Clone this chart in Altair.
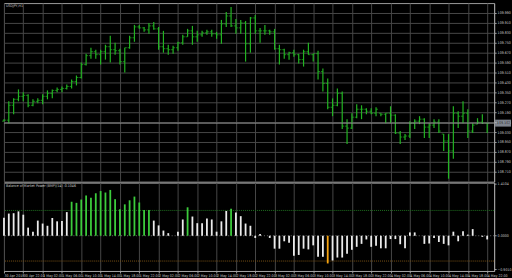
import altair as alt
import pandas as pd

# ---- data (USDJPY H1) ----
idx = list(range(101))
opens = [109.118,109.126,109.246,109.294,109.318,109.326,109.246,109.278,109.286,109.318,
         109.342,109.366,109.374,109.382,109.398,109.438,109.470,109.574,109.646,109.678,
         109.654,109.678,109.718,109.694,109.686,109.598,109.710,109.790,109.878,109.870,
         109.854,109.886,109.862,109.718,109.702,109.694,109.710,109.750,109.798,109.846,
         109.798,109.814,109.830,109.838,109.822,109.814,109.902,109.966,109.886,109.870,
         109.910,109.742,109.950,109.846,109.846,109.846,109.838,109.702,109.694,109.654,
         109.670,109.654,109.614,109.678,109.654,109.662,109.518,109.422,109.230,109.246,
         109.342,109.078,109.062,109.150,109.214,109.214,109.198,109.182,109.182,109.174,
         109.182,109.166,109.022,108.990,108.998,109.102,109.118,109.134,109.070,109.086,
         109.110,109.014,108.958,108.878,109.182,109.158,109.182,109.038,109.094,109.110,
         109.102]
highs = [109.134,109.278,109.302,109.374,109.350,109.334,109.294,109.302,109.334,109.366,
         109.374,109.390,109.398,109.414,109.454,109.486,109.590,109.662,109.710,109.694,
         109.694,109.734,109.806,109.750,109.702,109.710,109.806,109.894,109.894,109.878,
         109.910,109.918,109.878,109.846,109.734,109.726,109.758,109.814,109.862,109.886,
         109.846,109.846,109.854,109.854,109.838,109.934,109.998,110.038,109.942,109.934,
         109.926,109.958,109.974,109.870,109.894,109.854,109.862,109.734,109.702,109.678,
         109.694,109.662,109.694,109.750,109.662,109.686,109.542,109.462,109.302,109.382,
         109.358,109.134,109.182,109.254,109.246,109.222,109.222,109.230,109.182,109.182,
         109.238,109.174,109.038,109.014,109.118,109.134,109.158,109.142,109.102,109.134,
         109.134,109.014,109.014,109.238,109.198,109.278,109.214,109.102,109.142,109.174,
         109.102]
lows = [109.118,109.102,109.174,109.278,109.278,109.230,109.238,109.262,109.254,109.294,
        109.302,109.350,109.350,109.374,109.382,109.406,109.462,109.566,109.622,109.622,
        109.574,109.614,109.590,109.654,109.574,109.510,109.702,109.758,109.862,109.838,
        109.822,109.854,109.694,109.670,109.654,109.662,109.686,109.734,109.798,109.734,
        109.758,109.798,109.814,109.798,109.782,109.742,109.878,109.878,109.822,109.822,
        109.598,109.670,109.822,109.750,109.814,109.814,109.694,109.574,109.622,109.614,
        109.638,109.582,109.558,109.654,109.598,109.454,109.358,109.214,109.158,109.238,
        109.054,108.934,109.054,109.142,109.134,109.174,109.174,109.158,109.158,109.102,
        109.102,109.014,108.934,108.966,108.982,109.054,109.094,108.982,108.982,109.062,
        109.022,108.878,108.654,108.814,109.062,109.102,108.982,109.022,109.094,109.094,
        109.022]
closes = [109.126,109.246,109.294,109.318,109.326,109.246,109.278,109.286,109.318,109.342,
          109.366,109.374,109.382,109.398,109.438,109.470,109.574,109.646,109.678,109.654,
          109.678,109.718,109.694,109.686,109.598,109.710,109.790,109.878,109.870,109.854,
          109.886,109.862,109.718,109.702,109.694,109.710,109.750,109.798,109.846,109.798,
          109.814,109.830,109.838,109.822,109.814,109.902,109.966,109.886,109.870,109.910,
          109.742,109.950,109.846,109.846,109.846,109.838,109.702,109.694,109.654,109.670,
          109.654,109.614,109.678,109.654,109.662,109.518,109.422,109.230,109.246,109.342,
          109.078,109.062,109.150,109.214,109.214,109.198,109.182,109.214,109.174,109.182,
          109.166,109.022,108.990,108.998,109.102,109.118,109.134,109.070,109.086,109.110,
          109.038,108.958,108.878,109.182,109.158,109.182,109.038,109.086,109.110,109.102,
          109.102]
bmp = [0.49,0.60,0.61,0.66,0.57,0.22,0.11,0.41,0.33,0.27,
       0.48,0.39,0.40,0.64,0.92,0.89,0.98,1.09,1.03,1.15,
       1.21,1.17,1.24,0.99,0.72,0.85,0.96,1.06,0.90,0.70,
       0.70,0.41,0.28,0.14,0.07,0.00,0.11,0.44,0.77,0.52,
       0.34,0.34,0.47,0.44,0.11,0.39,0.67,0.73,0.63,0.53,
       0.33,0.27,-0.06,0.05,0.00,-0.06,-0.35,-0.35,-0.15,-0.19,
       -0.54,-0.52,-0.35,-0.37,-0.26,-0.57,-0.57,-0.75,-0.67,-0.59,
       -0.59,-0.49,-0.38,-0.30,-0.22,-0.10,-0.30,-0.27,-0.34,-0.34,
       -0.09,-0.09,-0.23,-0.34,0.09,0.09,0.00,-0.22,-0.21,-0.06,
       -0.17,-0.22,-0.26,0.11,-0.15,0.12,0.03,0.18,0.00,-0.03,
       -0.10]
level = 0.685

tick_idx = list(range(0, 101, 4))
time_labels = ["30 Apr 2018", "30 Apr 22:00", "1 May 02:00", "1 May 06:00", "1 May 10:00",
               "1 May 14:00", "1 May 18:00", "1 May 22:00", "2 May 02:00", "2 May 06:00",
               "2 May 10:00", "2 May 14:00", "2 May 18:00", "2 May 22:00", "3 May 02:00",
               "3 May 06:00", "3 May 10:00", "3 May 14:00", "3 May 18:00", "3 May 22:00",
               "4 May 02:00", "4 May 06:00", "4 May 10:00", "4 May 14:00", "4 May 18:00",
               "4 May 22:00"]
price_ticks = [108.710, 108.790, 108.870, 108.950, 109.030, 109.110, 109.190, 109.270,
               109.350, 109.430, 109.510, 109.590, 109.670, 109.750, 109.830, 109.910, 109.990]
bmp_ticks = [-0.9010, 0.0, 1.4104]
symbol_title = "USDJPY,H1"
ind_title = "Balance of Market Power (BMP)(14) -0.1046"

df = pd.DataFrame({"i": idx, "o": opens, "h": highs, "l": lows, "c": closes})
df2 = pd.DataFrame({"i": idx, "v": bmp})
last = pd.DataFrame({"p": [closes[-1]]})

FONT = "Liberation Sans Narrow, DejaVu Sans Condensed, Liberation Sans, sans-serif"
FS = 3.6
GRID = "#474747"
AXC = "#a0a0a0"
TXT = "#c8c8c8"
BARC = "#22b422"

W = 494
xscale = alt.Scale(domain=[0, 101.44], nice=False, zero=False)
pscale = alt.Scale(domain=[108.630, 110.070], nice=False, zero=False)
bscale = alt.Scale(domain=[-0.954, 1.437], nice=False, zero=False)

label_expr = "[" + ",".join("'%s'" % s for s in time_labels) + "][round(datum.value/4)]"

x_top_axis = alt.Axis(values=tick_idx, labels=False, ticks=False, domain=False,
                      grid=True, gridColor=GRID, gridWidth=1, title=None)
x_bot_axis = alt.Axis(values=tick_idx, labelExpr=label_expr, labelAlign="left",
                      labelBaseline="top", labelFontSize=FS, labelColor=TXT, labelFont=FONT,
                      labelPadding=1, labelFlush=False, labelOverlap=False,
                      tickSize=2, tickColor=AXC, domainColor=AXC,
                      grid=True, gridColor=GRID, title=None)
p_axis = alt.Axis(orient="right", values=price_ticks, format=".3f", labelFontSize=FS,
                  labelColor=TXT, labelFont=FONT, labelPadding=1, labelOverlap=False,
                  labelFlush=False, tickSize=2, tickColor=AXC, domainColor=AXC,
                  grid=True, gridColor=GRID, title=None)
b_axis = alt.Axis(orient="right", values=bmp_ticks, format=".4f", labelFontSize=FS,
                  labelColor=TXT, labelFont=FONT, labelPadding=1, labelOverlap=False,
                  labelFlush=False, tickSize=2, tickColor=AXC, domainColor=AXC,
                  grid=False, title=None)

def XT(f):
    return alt.X(f, type="quantitative", scale=xscale, axis=x_top_axis)

def YP(f):
    return alt.Y(f, type="quantitative", scale=pscale, axis=p_axis)

base = alt.Chart(df)
hl = base.mark_rule(color=BARC, strokeWidth=1.2).encode(x=XT("i"), y=YP("h"), y2="l:Q")
op = base.mark_tick(orient="horizontal", size=2, thickness=1, color=BARC, xOffset=-1).encode(
    x=XT("i"), y=YP("o"))
cl = base.mark_tick(orient="horizontal", size=2, thickness=1, color=BARC, xOffset=1).encode(
    x=XT("i"), y=YP("c"))
bid = alt.Chart(last).mark_rule(color="#8c8c8c", strokeWidth=1).encode(y=YP("p"))
box = alt.Chart(last).mark_tick(orient="horizontal", size=16, thickness=7,
                                color="#b4bccb", clip=False).encode(
    x=alt.value(W + 9), y=YP("p"))
boxtxt = alt.Chart(last).mark_text(fontSize=FS, font=FONT, color="#101010", align="left",
                                   baseline="middle").encode(
    x=alt.value(W + 3), y=YP("p"), text=alt.Text("p:Q", format=".3f"))
ttl = alt.Chart(pd.DataFrame({"t": [symbol_title]})).mark_text(
    fontSize=FS, font=FONT, color=TXT, align="left", baseline="top").encode(
    x=alt.value(2), y=alt.value(1), text="t:N")

top = alt.layer(hl, op, cl, bid, box, boxtxt, ttl).properties(width=W, height=180)

def XB(f):
    return alt.X(f, type="quantitative", scale=xscale, axis=x_bot_axis)

def YB(f):
    return alt.Y(f, type="quantitative", scale=bscale, axis=b_axis)

bars = alt.Chart(df2).transform_calculate(
    cat=f"datum.v > {level} ? 'up' : (datum.v < -{level} ? 'dn' : 'mid')"
).mark_rule(strokeWidth=1.8).encode(
    x=XB("i"),
    y=YB("v"),
    y2=alt.datum(0),
    color=alt.Color("cat:N", scale=alt.Scale(domain=["up", "mid", "dn"],
                                             range=["#3ccc3c", "#ececec", "#f7a410"]),
                    legend=None),
)
lv_up = alt.Chart(pd.DataFrame({"lv": [level]})).mark_rule(
    color="#1e6e1e", strokeDash=[1, 1], strokeWidth=1).encode(y=YB("lv"))
lv_dn = alt.Chart(pd.DataFrame({"lv": [-level]})).mark_rule(
    color="#7a5214", strokeDash=[1, 1], strokeWidth=1).encode(y=YB("lv"))
zero = alt.Chart(pd.DataFrame({"lv": [0.0]})).mark_rule(
    color="#6a6a6a", strokeDash=[1, 2], strokeWidth=1).encode(y=YB("lv"))
ttl2 = alt.Chart(pd.DataFrame({"t": [ind_title]})).mark_text(
    fontSize=FS, font=FONT, color=TXT, align="left", baseline="top").encode(
    x=alt.value(2), y=alt.value(1), text="t:N")

bottom = alt.layer(lv_up, lv_dn, zero, bars, ttl2).properties(width=W, height=89)

chart = alt.vconcat(top, bottom, spacing=1, bounds="flush").configure(
    background="#000000", padding={"left": 1, "top": 1, "right": 0, "bottom": 0}
).configure_view(stroke="#9a9a9a", strokeWidth=1)

chart.save("out.html", embed_options={"renderer": "svg", "actions": False})
